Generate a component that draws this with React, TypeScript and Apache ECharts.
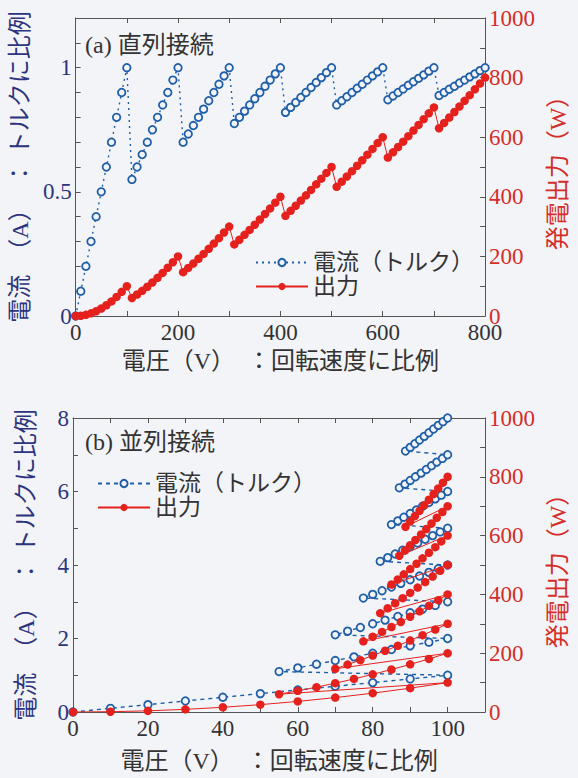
import React, { useEffect, useRef } from "react";
import * as echarts from "echarts";

const BG = "#f3f4f8";
const NAVY = "#2d347e";
const BLUE = "#1f5ea8";
const RED = "#e5211d";
const RED_TEXT = "#d52d28";
const GRAY = "#333333";
const AXIS = "#555555";
const FONT = "'Liberation Serif', 'Noto Sans CJK JP', serif";

const seriesNames = ["電流（トルク）", "出力"];
const titles = ["(a) 直列接続", "(b) 並列接続"];
const xAxisName = "電圧（V）\u2002：回転速度に比例";
const leftAxisName = "電流\u2002（A）\u2002：\u2005トルクに比例";
const rightAxisName = "発電出力（W）";

// (a) series connection
const topVoltage = [
  0, 10, 20, 30, 40, 50, 60, 70, 80, 90, 100,
  110, 120, 130, 140, 150, 160, 170, 180, 190, 200,
  210, 220, 230, 240, 250, 260, 270, 280, 290, 300,
  310, 320, 330, 340, 350, 360, 370, 380, 390, 400,
  410, 420, 430, 440, 450, 460, 470, 480, 490, 500,
  510, 520, 530, 540, 550, 560, 570, 580, 590, 600,
  610, 620, 630, 640, 650, 660, 670, 680, 690, 700,
  710, 720, 730, 740, 750, 760, 770, 780, 790, 800,
];
const topCurrent = [
  0, 0.1, 0.2, 0.3, 0.4, 0.5, 0.6, 0.7, 0.8, 0.9, 1.0,
  0.55, 0.6, 0.65, 0.7, 0.75, 0.8, 0.85, 0.9, 0.95, 1.0,
  0.7, 0.733, 0.767, 0.8, 0.833, 0.867, 0.9, 0.933, 0.967, 1.0,
  0.775, 0.8, 0.825, 0.85, 0.875, 0.9, 0.925, 0.95, 0.975, 1.0,
  0.82, 0.84, 0.86, 0.88, 0.9, 0.92, 0.94, 0.96, 0.98, 1.0,
  0.85, 0.867, 0.883, 0.9, 0.917, 0.933, 0.95, 0.967, 0.983, 1.0,
  0.871, 0.886, 0.9, 0.914, 0.929, 0.943, 0.957, 0.971, 0.986, 1.0,
  0.888, 0.9, 0.913, 0.925, 0.938, 0.95, 0.963, 0.975, 0.988, 1.0,
];
const topPower = [
  0, 1, 4, 9, 16, 25, 36, 49, 64, 81, 100,
  60.5, 72, 84.5, 98, 112.5, 128, 144.5, 162, 180.5, 200,
  147, 161.3, 176.3, 192, 208.3, 225.3, 243, 261.3, 280.3, 300,
  240.3, 256, 272.3, 289, 306.3, 324, 342.3, 361, 380.3, 400,
  336.2, 352.8, 369.8, 387.2, 405, 423.2, 441.8, 460.8, 480.2, 500,
  433.5, 450.7, 468.2, 486, 504.2, 522.7, 541.5, 560.7, 580.2, 600,
  531.6, 549.1, 567, 585.1, 603.6, 622.3, 641.3, 660.6, 680.1, 700,
  630.1, 648, 666.1, 684.5, 703.1, 722, 741.1, 760.5, 780.1, 800,
];

// (b) parallel connection
const bottomVoltage = [
  0, 10, 20, 30, 40, 50, 60, 70, 80, 90, 100,
  55, 60, 65, 70, 75, 80, 85, 90, 95, 100,
  70, 73.3, 76.7, 80, 83.3, 86.7, 90, 93.3, 96.7, 100,
  77.5, 80, 82.5, 85, 87.5, 90, 92.5, 95, 97.5, 100,
  82, 84, 86, 88, 90, 92, 94, 96, 98, 100,
  85, 86.7, 88.3, 90, 91.7, 93.3, 95, 96.7, 98.3, 100,
  87.1, 88.6, 90, 91.4, 92.9, 94.3, 95.7, 97.1, 98.6, 100,
  88.75, 90, 91.25, 92.5, 93.75, 95, 96.25, 97.5, 98.75, 100,
];
const bottomCurrent = [
  0, 0.1, 0.2, 0.3, 0.4, 0.5, 0.6, 0.7, 0.8, 0.9, 1.0,
  1.1, 1.2, 1.3, 1.4, 1.5, 1.6, 1.7, 1.8, 1.9, 2.0,
  2.1, 2.2, 2.3, 2.4, 2.5, 2.6, 2.7, 2.8, 2.9, 3.0,
  3.1, 3.2, 3.3, 3.4, 3.5, 3.6, 3.7, 3.8, 3.9, 4.0,
  4.1, 4.2, 4.3, 4.4, 4.5, 4.6, 4.7, 4.8, 4.9, 5.0,
  5.1, 5.2, 5.3, 5.4, 5.5, 5.6, 5.7, 5.8, 5.9, 6.0,
  6.1, 6.2, 6.3, 6.4, 6.5, 6.6, 6.7, 6.8, 6.9, 7.0,
  7.1, 7.2, 7.3, 7.4, 7.5, 7.6, 7.7, 7.8, 7.9, 8.0,
];
const bottomPower = [
  0, 1, 4, 9, 16, 25, 36, 49, 64, 81, 100,
  60.5, 72, 84.5, 98, 112.5, 128, 144.5, 162, 180.5, 200,
  147, 161.3, 176.3, 192, 208.3, 225.3, 243, 261.3, 280.3, 300,
  240.3, 256, 272.3, 289, 306.3, 324, 342.3, 361, 380.3, 400,
  336.2, 352.8, 369.8, 387.2, 405, 423.2, 441.8, 460.8, 480.2, 500,
  433.5, 450.7, 468.2, 486, 504.2, 522.7, 541.5, 560.7, 580.2, 600,
  531.6, 549.1, 567, 585.1, 603.6, 622.3, 641.3, 660.6, 680.1, 700,
  630.1, 648, 666.1, 684.5, 703.1, 722, 741.1, 760.5, 780.1, 800,
];

const pairs = (xs: number[], ys: number[]) => xs.map((x, i) => [x, ys[i]]);

const FS_TICK = 23;
const FS_NAME = 24;
const FS_LEGEND = 23;
const FS_TITLE = 24;

function tickAxis(extra: any) {
  return {
    type: "value",
    splitLine: { show: false },
    axisLine: { show: true, onZero: false, lineStyle: { color: AXIS, width: 1 } },
    axisTick: { show: true, inside: true, length: 5, lineStyle: { color: AXIS } },
    ...extra,
  };
}

function buildOption(cfg: {
  grid: any;
  xMax: number;
  xInterval: number;
  xLabel: (v: number) => string;
  yMax: number;
  yInterval: number;
  yLabel: (v: number) => string;
  leftGap: number;
  rightGap: number;
  xGap: number;
  voltage: number[];
  current: number[];
  power: number[];
  dash: number[];
  title: string;
  titlePos: { left: number; top: number };
  legendPos: { left: number; top: number };
}) {
  return {
    animation: false,
    backgroundColor: "transparent",
    textStyle: { fontFamily: FONT },
    grid: cfg.grid,
    graphic: [
      {
        type: "text",
        left: cfg.titlePos.left,
        top: cfg.titlePos.top,
        style: { text: cfg.title, fontSize: FS_TITLE, fill: GRAY, fontFamily: FONT },
      },
    ],
    legend: {
      orient: "vertical",
      left: cfg.legendPos.left,
      top: cfg.legendPos.top,
      padding: 0,
      itemWidth: 52,
      itemHeight: 9,
      itemGap: 1,
      data: seriesNames,
      textStyle: { fontSize: FS_LEGEND, color: GRAY, fontFamily: FONT, lineHeight: 23 },
    },
    xAxis: [
      tickAxis({
        min: 0,
        max: cfg.xMax,
        interval: cfg.xInterval,
        position: "bottom",
        axisLabel: { color: GRAY, fontSize: FS_TICK, margin: 5, fontFamily: FONT, formatter: cfg.xLabel },
        name: xAxisName,
        nameLocation: "middle",
        nameGap: cfg.xGap,
        nameTextStyle: { color: GRAY, fontSize: FS_NAME, fontFamily: FONT },
      }),
      tickAxis({
        min: 0,
        max: cfg.xMax,
        interval: cfg.xInterval,
        position: "top",
        axisLabel: { show: false },
      }),
    ],
    yAxis: [
      tickAxis({
        min: 0,
        max: cfg.yMax,
        interval: cfg.yInterval,
        position: "left",
        axisLabel: { color: NAVY, fontSize: FS_TICK, margin: 4, fontFamily: FONT, formatter: cfg.yLabel },
        name: leftAxisName,
        nameLocation: "middle",
        nameRotate: 90,
        nameGap: cfg.leftGap,
        nameTextStyle: { color: NAVY, fontSize: FS_NAME, fontFamily: FONT },
      }),
      tickAxis({
        min: 0,
        max: 1000,
        interval: 100,
        position: "right",
        axisLabel: {
          color: RED_TEXT,
          fontSize: FS_TICK,
          margin: 4,
          fontFamily: FONT,
          formatter: (v: number) => (Math.round(v) % 200 === 0 ? String(Math.round(v)) : ""),
        },
        name: rightAxisName,
        nameLocation: "middle",
        nameRotate: 90,
        nameGap: cfg.rightGap,
        nameTextStyle: { color: RED_TEXT, fontSize: FS_NAME, fontFamily: FONT },
      }),
    ],
    series: [
      {
        name: seriesNames[0],
        type: "line",
        xAxisIndex: 0,
        yAxisIndex: 0,
        data: pairs(cfg.voltage, cfg.current),
        symbol: "circle",
        symbolSize: 7.5,
        itemStyle: { color: BG, borderColor: BLUE, borderWidth: 1.8 },
        lineStyle: { color: BLUE, width: 1.4, type: cfg.dash },
        z: 2,
      },
      {
        name: seriesNames[1],
        type: "line",
        xAxisIndex: 0,
        yAxisIndex: 1,
        data: pairs(cfg.voltage, cfg.power),
        symbol: "circle",
        symbolSize: 8.5,
        itemStyle: { color: RED },
        lineStyle: { color: RED, width: 1 },
        z: 3,
      },
    ],
  };
}

function Chart({ option }: { option: any }) {
  const ref = useRef<HTMLDivElement>(null);
  useEffect(() => {
    if (!ref.current) return;
    const chart = echarts.init(ref.current, undefined, { renderer: "svg" });
    chart.setOption(option);
    return () => chart.dispose();
  }, [option]);
  return <div ref={ref} style={{ width: 578, height: 389 }} />;
}

const topOption = buildOption({
  grid: { left: 72, top: 18, width: 416, height: 298 },
  xMax: 800,
  xInterval: 100,
  xLabel: (v: number) => (Math.round(v) % 200 === 0 ? String(Math.round(v)) : ""),
  yMax: 1.2,
  yInterval: 0.1,
  yLabel: (v: number) => {
    const r = Math.round(v * 10);
    return r % 5 === 0 && r <= 10 ? String(r / 10) : "";
  },
  leftGap: 33,
  rightGap: 51,
  xGap: 32,
  voltage: topVoltage,
  current: topCurrent,
  power: topPower,
  dash: [2, 4],
  title: titles[0],
  titlePos: { left: 85, top: 33 },
  legendPos: { left: 255, top: 251 },
});

const bottomOption = buildOption({
  grid: { left: 73, top: 29, width: 421, height: 300 },
  xMax: 110,
  xInterval: 10,
  xLabel: (v: number) => {
    const r = Math.round(v);
    return r % 20 === 0 && r <= 100 ? String(r) : "";
  },
  yMax: 8,
  yInterval: 1,
  yLabel: (v: number) => {
    const r = Math.round(v);
    return r % 2 === 0 ? String(r) : "";
  },
  leftGap: 35,
  rightGap: 52,
  xGap: 37,
  voltage: bottomVoltage,
  current: bottomCurrent,
  power: bottomPower,
  dash: [4, 4],
  title: titles[1],
  titlePos: { left: 85, top: 41 },
  legendPos: { left: 97, top: 83 },
});

export default function App() {
  return (
    <div
      style={{
        position: "fixed",
        left: 0,
        top: 0,
        width: 578,
        height: 778,
        background: BG,
        overflow: "hidden",
      }}
    >
      <Chart option={topOption} />
      <Chart option={bottomOption} />
    </div>
  );
}
